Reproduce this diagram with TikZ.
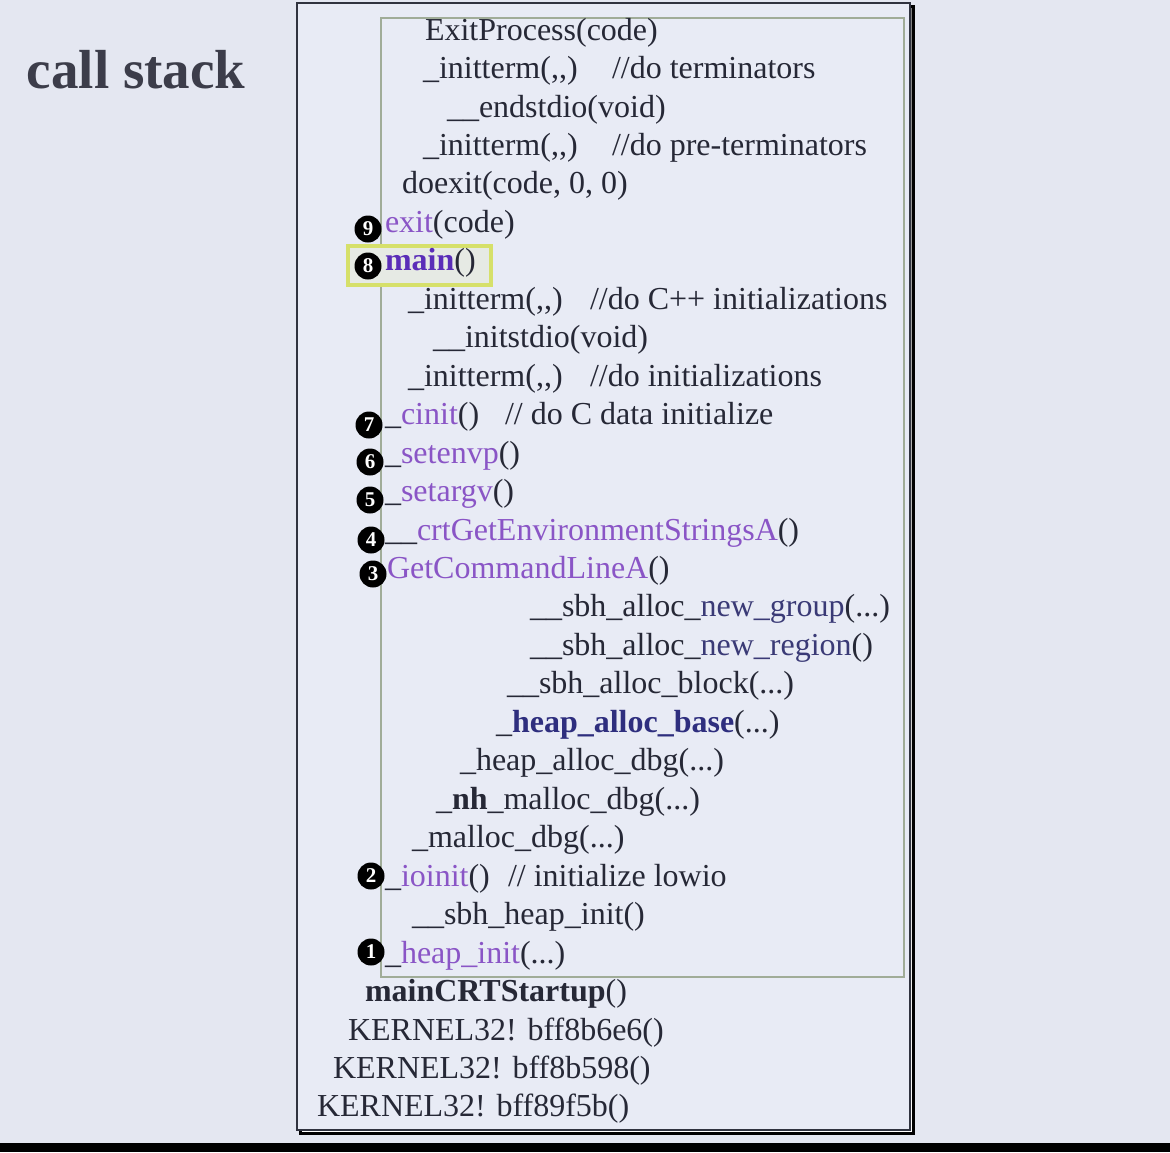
\documentclass[tikz,border=0pt]{standalone}
\usepackage{fontspec}
\setmainfont{Liberation Serif}
\definecolor{bgc}{HTML}{E4E7F1}
\definecolor{panel}{HTML}{E8EBF5}
\definecolor{ink}{HTML}{262836}
\definecolor{frame}{HTML}{30333F}
\definecolor{shade}{HTML}{9499A8}
\definecolor{inner}{HTML}{A0AC98}
\definecolor{purp}{HTML}{8A55C6}
\definecolor{mainc}{HTML}{5A2DB8}
\definecolor{basec}{HTML}{2E2E7E}
\definecolor{newc}{HTML}{3A3A76}
\definecolor{hl}{HTML}{D6E06A}
\newcommand\pfn[1]{\textcolor{purp}{#1}}
\begin{document}
\begin{tikzpicture}[x=1pt,y=-1pt,
  every node/.style={inner sep=0pt, outer sep=0pt, anchor=base west,
    text=ink, font=\fontsize{32}{38}\selectfont},
  num/.style={circle, fill=black, minimum size=27pt, anchor=center,
    text=white, font=\bfseries\fontsize{21}{21}\selectfont}]
% canvas and bottom bar
\fill[bgc] (0,0) rectangle (1170,1152);
\fill[black] (0,1143) rectangle (1170,1152);
% outer frame with a soft shadow
\draw[shade, line width=3pt] (300,6) rectangle (913,1133);
\fill[panel] (297,3) rectangle (910,1130);
\draw[frame, line width=2.5pt] (297,3) rectangle (910,1130);
% inner frame
\draw[inner, line width=1.5pt] (381,18) rectangle (904,977);
% highlight round main()
\draw[hl, line width=3.5pt, fill=hl!12!panel] (348,246) rectangle (491,285);

% title
\node (title) at (27,88) {\fontsize{55}{55}\selectfont\bfseries\color{ink!90!white}call stack};

% stack entries, top to bottom
\node (l0)  at (425,40)    {ExitProcess(code)};
\node (l1)  at (423,78.5)  {\_initterm({,}{,})};
\node (c1)  at (612,78.5)  {//do terminators};
\node (l2)  at (447,117)   {\_\_endstdio(void)};
\node (l3)  at (423,155.4) {\_initterm({,}{,})};
\node (c3)  at (612,155.4) {//do pre-terminators};
\node (l4)  at (402,193.8) {doexit(code, 0, 0)};
\node (l5)  at (385,232.3) {\pfn{exit}(code)};
\node (l6)  at (385,270.8) {{\bfseries\color{mainc}main}()};
\node (l7)  at (408,309.2) {\_initterm({,}{,})};
\node (c7)  at (590,309.2) {//do C++ initializations};
\node (l8)  at (433,347.7) {\_\_initstdio(void)};
\node (l9)  at (408,386.1) {\_initterm({,}{,})};
\node (c9)  at (590,386.1) {//do initializations};
\node (l10) at (385,424.6) {\_\pfn{cinit}()};
\node (c10) at (505,424.6) {// do C data initialize};
\node (l11) at (385,463.1) {\_\pfn{setenvp}()};
\node (l12) at (385,501.5) {\_\pfn{setargv}()};
\node (l13) at (385,540)   {\_\_\pfn{crtGetEnvironmentStringsA}()};
\node (l14) at (387,578.4) {\pfn{GetCommandLineA}()};
\node (l15) at (530,616.9) {\_\_sbh\_alloc\_\textcolor{newc}{new\_group}(...)};
\node (l16) at (530,655.4) {\_\_sbh\_alloc\_\textcolor{newc}{new\_region}()};
\node (l17) at (507,693.8) {\_\_sbh\_alloc\_block(...)};
\node (l18) at (496,732.3) {\_{\bfseries\color{basec}heap\_alloc\_base}(...)};
\node (l19) at (460,770.7) {\_heap\_alloc\_dbg(...)};
\node (l20) at (436,809.2) {\_{\bfseries nh}\_malloc\_dbg(...)};
\node (l21) at (412,847.7) {\_malloc\_dbg(...)};
\node (l22) at (385,886.1) {\_\pfn{ioinit}()};
\node (c22) at (508,886.1) {// initialize lowio};
\node (l23) at (412,924.6) {\_\_sbh\_heap\_init()};
\node (l24) at (385,963)   {\_\pfn{heap\_init}(...)};
\node (l25) at (365,1001.5){{\bfseries mainCRTStartup}()};
\node (l26) at (348,1040)  {KERNEL32! bff8b6e6()};
\node (l27) at (333,1078.4){KERNEL32! bff8b598()};
\node (l28) at (317,1116.9){KERNEL32! bff89f5b()};

% step markers
\node[num] (n9) at (368,229) {9};
\node[num] (n8) at (368,266) {8};
\node[num] (n7) at (369,425) {7};
\node[num] (n6) at (370,462) {6};
\node[num] (n5) at (370,500) {5};
\node[num] (n4) at (371,540) {4};
\node[num] (n3) at (373,574) {3};
\node[num] (n2) at (371,876) {2};
\node[num] (n1) at (371,952) {1};
\end{tikzpicture}
\end{document}
